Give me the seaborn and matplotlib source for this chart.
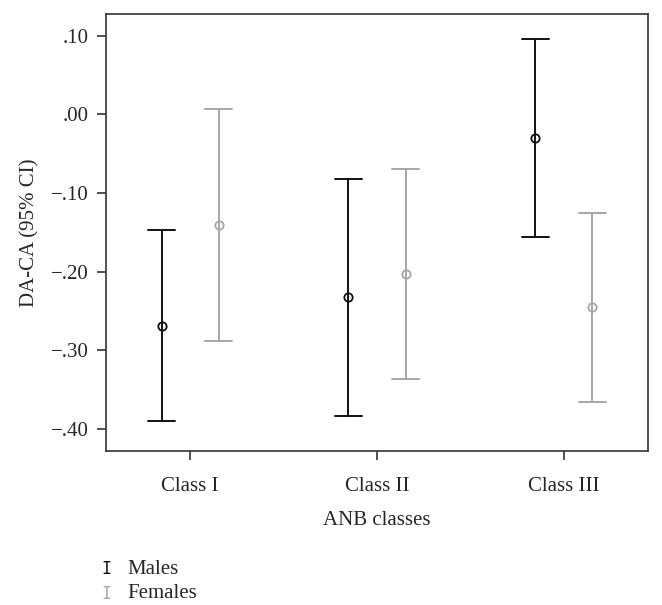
import pandas as pd
import matplotlib
matplotlib.use("Agg")
import matplotlib.pyplot as plt
import seaborn as sns

# Group means and 95% CI bounds
classes = ["Class I", "Class II", "Class III"]
male_mean = [-0.269, -0.233, -0.030]
male_low = [-0.390, -0.384, -0.156]
male_high = [-0.147, -0.082, 0.096]
female_mean = [-0.141, -0.203, -0.245]
female_low = [-0.289, -0.337, -0.366]
female_high = [0.007, -0.069, -0.125]
yticks = [0.10, 0.00, -0.10, -0.20, -0.30, -0.40]
ytick_labels = [".10", ".00", "\u2212.10", "\u2212.20", "\u2212.30", "\u2212.40"]

# long table: low / mean / high per group -> median = mean, full range = CI
rows = []
for sex, lo, mu, hi in [("Males", male_low, male_mean, male_high),
                        ("Females", female_low, female_mean, female_high)]:
    for i, c in enumerate(classes):
        for v in (lo[i], mu[i], hi[i]):
            rows.append({"cls": c, "sex": sex, "value": v})
df = pd.DataFrame(rows)

sns.set_style("white")
plt.rcParams["font.family"] = ["Liberation Serif", "DejaVu Serif"]

fig = plt.figure(figsize=(6.62, 6.05), dpi=100)
ax = fig.add_axes([0.160, 0.2545, 0.819, 0.7225])

palette = {"Males": "#111111", "Females": "#a6a6a6"}
sns.pointplot(data=df, x="cls", y="value", hue="sex", order=classes,
              hue_order=["Males", "Females"], palette=palette,
              estimator="median", errorbar=("pi", 100), dodge=0.305,
              linestyle="none", markers="o", capsize=0.14,
              err_kws={"linewidth": 1.4}, markersize=6,
              markeredgewidth=1.3, legend=False, ax=ax)

for ln in ax.lines:
    ln.set_markerfacecolor("none")

ax.set_xlim(-0.45, 2.45)
ax.set_ylim(-0.4285, 0.128)
ax.set_yticks(yticks)
ax.set_yticklabels(ytick_labels)
ax.tick_params(axis="both", labelsize=15, direction="out", length=6.5,
               width=1.2, color="#333333", left=True, bottom=True)
ax.tick_params(axis="y", pad=6)
ax.tick_params(axis="x", pad=12)
for s in ax.spines.values():
    s.set_visible(True)
    s.set_color("#333333")
    s.set_linewidth(1.2)

ax.set_xlabel("ANB classes", fontsize=15, labelpad=11)
ax.set_ylabel("DA-CA (95% CI)", fontsize=15, labelpad=8)

# legend below the plot
fig.text(0.160, 1 - 569 / 605, "I", family="DejaVu Sans Mono", fontsize=12,
         color="#111111", va="center", ha="center")
fig.text(0.193, 1 - 569 / 605, "Males", fontsize=15, va="center")
fig.text(0.160, 1 - 594 / 605, "I", family="DejaVu Sans Mono", fontsize=12,
         color="#a6a6a6", va="center", ha="center")
fig.text(0.193, 1 - 594 / 605, "Females", fontsize=15, va="center")

fig.savefig("out.png", dpi=100)
